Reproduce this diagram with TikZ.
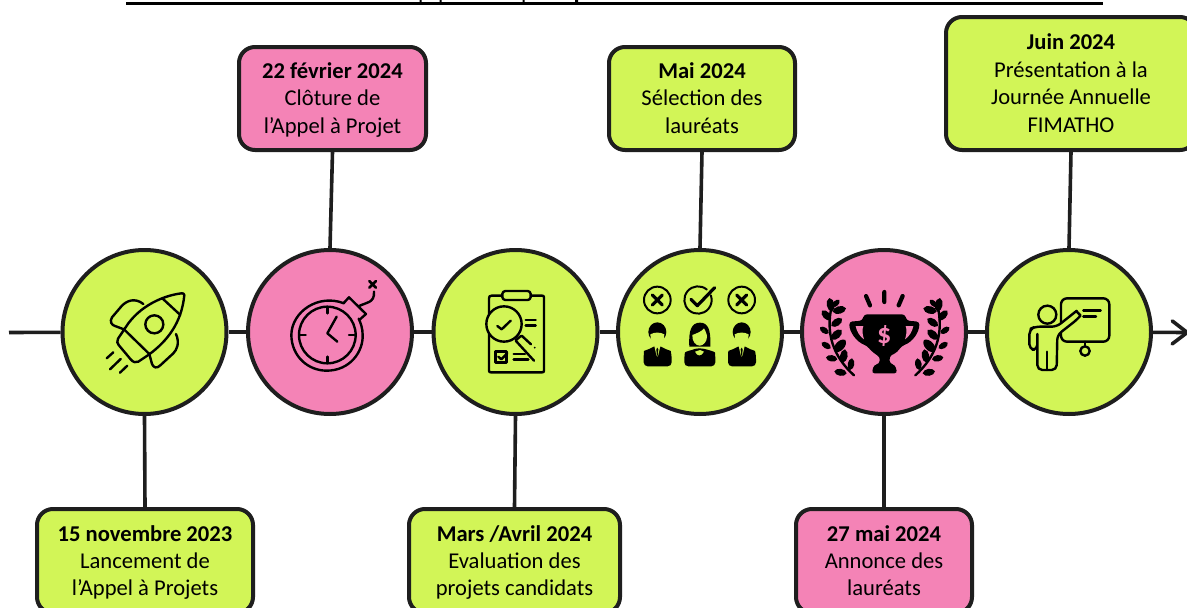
\documentclass[tikz,border=0pt]{standalone}
\usepackage{fontspec}
\setmainfont{Carlito}
\usetikzlibrary{arrows.meta}
\definecolor{lime}{HTML}{D2F557}
\definecolor{pinkk}{HTML}{F483B6}
\definecolor{ink}{HTML}{1E1E1E}
\newcommand{\lnstrut}{\vphantom{Ág}}
\tikzset{
  disc/.style={circle,draw=ink,line width=4pt,minimum size=164pt,inner sep=0pt},
  card/.style={rectangle,rounded corners=16pt,draw=ink,line width=4pt,inner sep=0pt,align=center,
     font=\fontsize{22.6}{27.4}\selectfont,text=black},
  link/.style={draw=ink,line width=3.6pt},
  ic/.style={line width=2.4pt,line cap=round,line join=round,draw=black},
  zoomA/.style={x=0.33333pt,y=-0.33333pt,shift={(#1pt,-240pt)}}
}
\newcommand{\leafy}[2]{\fill[black] (#1) to[bend left=72] (#2) to[bend left=72] (#1);}
\newcommand{\laurel}{%
  \draw[ic,line width=2.4pt] (192,406) .. controls (130,350) and (105,280) .. (126,195);
  \leafy{126,215}{118,174}\leafy{128,200}{148,180}\leafy{128,215}{168,205}
  \leafy{122,240}{96,212}\leafy{124,258}{156,236}
  \leafy{116,280}{90,262}\leafy{124,298}{155,270}
  \leafy{122,325}{95,308}\leafy{134,335}{166,300}
  \leafy{142,358}{108,352}\leafy{158,368}{165,328}
  \leafy{170,400}{133,394}\leafy{180,390}{186,355}
}
\newcommand{\manicon}[1]{%
  \begin{scope}[shift={(#1,0)}]
  \fill[black,rounded corners=4pt] (-41,379) -- (-41,345) .. controls (-40,332) and (-25,328) .. (-12,318)
     -- (12,318) .. controls (25,328) and (40,332) .. (43,345) -- (43,379) -- cycle;
  \fill[lime] (-9,318) -- (9,318) -- (3,345) -- (0,350) -- (-3,345) -- cycle;
  \fill[black] (0,323) -- (3,328) -- (1.5,347) -- (-1.5,347) -- (-3,328) -- cycle;
  \fill[black] (0,276) ellipse (27 and 29);
  \fill[lime] (-21,283) .. controls (-8,276) and (8,276) .. (21,283) .. controls (22,303) and (11,313) .. (0,313) .. controls (-11,313) and (-22,303) .. (-21,283);
  \end{scope}}
\begin{document}
\begin{tikzpicture}[x=1pt,y=-1pt]
\useasboundingbox (0,0) rectangle (1187,608);
\clip (0,0) rectangle (1187,608);
\fill[white] (0,0) rectangle (1187,608);

% clipped title rule with descenders
\fill[black] (126,1.7) rectangle (1103,4.6);
\fill[black] (419.5,0) rectangle (421.5,2) (439.5,0) rectangle (441.5,2) (522.5,0) rectangle (524.5,2) (575,0) rectangle (578,2);

% circles
\node[disc,fill=lime]  (c1) at (144.5,332) {};
\node[disc,fill=pinkk] (c2) at (330,332) {};
\node[disc,fill=lime]  (c3) at (515.5,332) {};
\node[disc,fill=lime]  (c4) at (700,332) {};
\node[disc,fill=pinkk] (c5) at (884,332) {};
\node[disc,fill=lime]  (c6) at (1069,332) {};

% cards
\node[card,fill=lime,minimum width=216pt,minimum height=104pt]  (b1) at (145,561) {\lnstrut\textbf{15 novembre 2023}\\Lancement de\\l’Appel à Projets\lnstrut};
\node[card,fill=pinkk,minimum width=187pt,minimum height=103pt] (b2) at (332.5,98.5) {\lnstrut\textbf{22 février 2024}\\Clôture de\\l’Appel à Projet\lnstrut};
\node[card,fill=lime,minimum width=211pt,minimum height=104pt]  (b3) at (514.5,561) {\lnstrut\textbf{Mars /Avril 2024}\\Evaluation des\\projets candidats\lnstrut};
\node[card,fill=lime,minimum width=186pt,minimum height=103pt]  (b4) at (702,98.5) {\lnstrut\textbf{Mai 2024}\\Sélection des\\lauréats\lnstrut};
\node[card,fill=pinkk,minimum width=176pt,minimum height=104pt] (b5) at (884,561) {\lnstrut\textbf{27 mai 2024}\\Annonce des\\lauréats\lnstrut};
\node[card,fill=lime,minimum width=250pt,minimum height=133pt]  (b6) at (1071,83.5) {\lnstrut\textbf{Juin 2024}\\Présentation à la\\Journée Annuelle\\FIMATHO\lnstrut};

% connectors
\coordinate (start) at (9,332.5);
\coordinate (stop) at (1189,332.5);
\draw[link] (start) -- (c1);
\draw[link] (c1) -- (c2);
\draw[link] (c2) -- (c3);
\draw[link] (c3) -- (c4);
\draw[link] (c4) -- (c5);
\draw[link] (c5) -- (c6);
\draw[link,line cap=round,-{Straight Barb[length=15pt,width=23pt,round]}] (c6) -- (stop);
\draw[link] (b1.north) -- (c1.south);
\draw[link] (b2.south) -- (c2.north);
\draw[link] (b3.north) -- (c3.south);
\draw[link] (b4.south) -- (c4.north);
\draw[link] (b5.north) -- (c5.south);
\draw[link] (b6.south) -- (c6.north);

% ---- rocket
\begin{scope}[zoomA=0]
\draw[ic] (430,192) .. controls (405,172) and (380,182) .. (365,198) -- (336,232) .. controls (328,245) and (335,255) .. (345,258) -- (372,268);
\draw[ic] (528,282) .. controls (540,310) and (530,330) .. (520,340) -- (482,375) .. controls (470,388) and (460,382) .. (456,372) -- (448,342);
\draw[ic] (553,165) .. controls (553,160) and (548,160) .. (545,160) .. controls (500,165) and (430,190) .. (385,250) -- (354,296) .. controls (350,305) and (352,310) .. (356,315) -- (392,358) .. controls (400,368) and (408,368) .. (415,365) -- (445,345) .. controls (500,305) and (545,250) .. (553,165);
\draw[ic] (487,175) -- (541,225);
\draw[ic] (372,268) -- (448,342);
\draw[ic] (463,253) circle (27);
\draw[ic] (320,355) -- (340,337);
\draw[ic] (330,388) -- (362,357);
\draw[ic] (360,398) -- (382,377);
\end{scope}

% ---- bomb
\begin{scope}[zoomA=0]
\draw[ic] (1032,190) .. controls (955,160) and (875,215) .. (874,285) .. controls (875,350) and (925,392) .. (980,392) .. controls (1050,392) and (1090,335) .. (1088,285) .. controls (1088,265) and (1082,248) .. (1076,236);
\draw[ic] (982,285) circle (85);
\draw[ic] (1032,188) -- (1047,172) -- (1098,222) -- (1080,238);
\draw[ic] (982,204) -- (982,220) (982,350) -- (982,366) (901,285) -- (917,285) (1047,285) -- (1063,285);
\draw[ic] (1010,230) -- (982,280) -- (1012,305);
\draw[ic] (1078,198) .. controls (1095,188) and (1125,190) .. (1122,155);
\draw[ic,line width=2.6pt] (1108,123) -- (1128,143) (1128,123) -- (1108,143);
\end{scope}

% ---- clipboard
\begin{scope}[zoomA=420]
\draw[ic] (245,167) -- (215,167) .. controls (209,167) and (207,170) .. (207,175) -- (207,392) .. controls (207,396) and (209,397) .. (213,397) -- (366,397) .. controls (370,397) and (372,396) .. (372,392) -- (372,172) .. controls (372,168) and (370,167) .. (366,167) -- (334,167);
\draw[ic,rounded corners=3pt] (247,153) rectangle (332,180);
\draw[ic,fill=lime] (252,252) circle (53);
\draw[ic] (232,258) -- (245,268) -- (272,242);
\draw[ic] (317,240) -- (347,240) (317,257) -- (347,257);
\draw[ic] (287,302) -- (342,362) (305,287) -- (333,313) (288,300) -- (303,288);
\fill (344,323) circle (3);
\draw[ic] (227,335) rectangle (260,367);
\draw[ic] (235,350) -- (244,358) -- (262,340);
\draw[ic] (281,342) -- (315,342) (281,358) -- (325,358);
\end{scope}

% ---- selection
\begin{scope}[zoomA=420]
\draw[ic,line width=2pt] (712,180) circle (40);
\draw[ic,line width=3.2pt] (697,165) -- (727,195) (727,165) -- (697,195);
\draw[ic,line width=2pt] (860.4,148.6) arc[start angle=-50,end angle=-380,radius=41];
\draw[ic,line width=3.2pt] (813,178) -- (832,197) -- (884,143);
\draw[ic,line width=2pt] (965,180) circle (40);
\draw[ic,line width=3.2pt] (950,165) -- (980,195) (980,165) -- (950,195);
\manicon{712}
\manicon{965}
\fill[black,rounded corners=4pt] (793,379) -- (793,350) .. controls (795,335) and (815,330) .. (825,325) -- (850,325) .. controls (865,330) and (885,335) .. (886,350) -- (886,379) -- cycle;
\fill[lime] (825,335) .. controls (832,350) and (844,350) .. (852,335) -- (840,330) -- cycle;
\fill[black] (808,320) .. controls (805,270) and (815,248) .. (840,248) .. controls (865,248) and (873,270) .. (871,320) -- cycle;
\fill[lime] (817,285) .. controls (830,280) and (845,275) .. (852,265) .. controls (858,275) and (861,285) .. (861,290) .. controls (861,305) and (850,317) .. (839,317) .. controls (828,317) and (816,305) .. (817,285);
\end{scope}

% ---- trophy
\begin{scope}[zoomA=790]
\draw[ic,line width=4.2pt] (228,168) -- (240,196) (283,156) -- (283,186) (338,168) -- (326,196);
\fill[black,rounded corners=3pt] (222,223) -- (345,223) -- (350,242) -- (388,245) .. controls (388,275) and (370,305) .. (335,318) .. controls (320,340) and (305,345) .. (298,350) -- (300,372) -- (315,374) -- (322,400) -- (245,400) -- (252,374) -- (268,372) -- (270,350) .. controls (260,345) and (245,335) .. (232,318) .. controls (198,305) and (178,275) .. (178,245) -- (217,242) -- cycle;
\fill[pinkk] (197,258) -- (220,258) .. controls (215,270) and (218,285) .. (222,298) .. controls (210,290) and (200,275) .. (197,258);
\fill[pinkk] (370,258) -- (347,258) .. controls (352,270) and (349,285) .. (345,298) .. controls (357,290) and (367,275) .. (370,258);
\node[text=pinkk,font=\fontsize{28}{28}\selectfont\bfseries,inner sep=0pt] (dollar) at (283,287) {\$};
\laurel
\begin{scope}[shift={(568,0)},xscale=-1]
\laurel
\end{scope}
\end{scope}

% ---- teacher
\begin{scope}[zoomA=790]
\draw[ic,rounded corners=6pt] (813,175) rectangle (958,305);
\draw[ic] (880,212) -- (932,212) (880,230) -- (918,230);
\draw[ic] (885,305) -- (885,319);
\draw[ic] (885,333) circle (14);
\draw[ic,fill=lime,rounded corners=5pt] (742,300) -- (742,330) -- (718,328) -- (718,268) -- (735,260) -- (800,260) -- (848,222) .. controls (858,214) and (872,226) .. (862,238) -- (802,285) -- (800,390) -- (742,390) -- (742,282);
\draw[ic] (771,335) -- (771,390);
\draw[ic,fill=lime] (772,224) circle (27);
\end{scope}
\end{tikzpicture}
\end{document}
